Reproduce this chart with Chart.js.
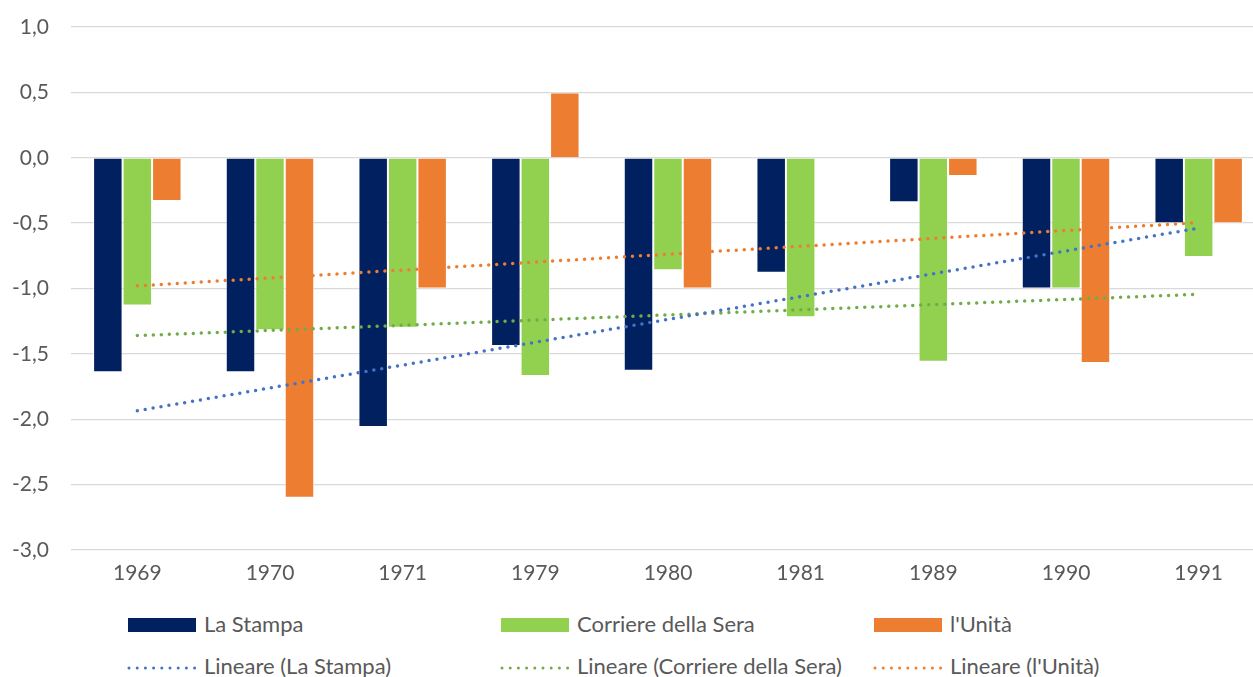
<!DOCTYPE html>
<html>
<head>
<meta charset="utf-8">
<script src="https://cdn.jsdelivr.net/npm/chart.js@4.4.1/dist/chart.umd.min.js"></script>
<style>
  html, body { margin: 0; padding: 0; background: #fff; width: 1253px; height: 677px; overflow: hidden; position: relative; }
  #wrap { position: absolute; left: 0; top: 0; width: 1265px; height: 600px; }
  .leg { position: absolute; font-family: Lato, "Open Sans", sans-serif; font-size: 22px; color: #595959; white-space: nowrap; line-height: 24px; }
  .sw { position: absolute; width: 68px; height: 14px; }
  svg.dl { position: absolute; width: 70px; height: 8px; }
</style>
</head>
<body>
<div id="wrap"><canvas id="c"></canvas></div>
<div id="legend"></div>
<script>
const categories = ["1969", "1970", "1971", "1979", "1980", "1981", "1989", "1990", "1991"];
const laStampa = [-1.64, -1.64, -2.06, -1.44, -1.63, -0.88, -0.34, -1.00, -0.50];
const corriere = [-1.13, -1.32, -1.30, -1.67, -0.86, -1.22, -1.56, -1.00, -0.76];
const unita    = [-0.33, -2.60, -1.00, 0.50, -1.00, 0.00, -0.14, -1.57, -0.50];
const seriesNames = ["La Stampa", "Corriere della Sera", "l'Unità"];
const yTicks = { min: -3, max: 1, step: 0.5 };

const barColors = ["#002060", "#92D050", "#ED7D31"];
const trendColors = ["#4472C4", "#70AD47", "#ED7D31"];

// Linear trend (least squares) of each series, as Excel's "Lineare" trendline
function linearTrend(vals) {
  const n = vals.length;
  let sx = 0, sy = 0, sxx = 0, sxy = 0;
  vals.forEach((v, i) => { const x = i + 1; sx += x; sy += v; sxx += x * x; sxy += x * v; });
  const b = (n * sxy - sx * sy) / (n * sxx - sx * sx);
  const a = (sy - b * sx) / n;
  return vals.map((v, i) => a + b * (i + 1));
}

const seriesData = [laStampa, corriere, unita];
const datasets = [];
seriesData.forEach((d, i) => {
  datasets.push({
    type: 'bar', label: seriesNames[i], data: d,
    backgroundColor: barColors[i], borderColor: 'rgba(255,255,255,0.5)', borderWidth: 1,
    categoryPercentage: 3 / 4.5, barPercentage: 1, order: 2
  });
});
seriesData.forEach((d, i) => {
  datasets.push({
    type: 'line', label: 'Lineare (' + seriesNames[i] + ')', data: linearTrend(d),
    borderColor: trendColors[i], borderWidth: 3.5, borderDash: [0, 8], borderCapStyle: 'round',
    pointRadius: 0, fill: false, tension: 0, order: 1
  });
});

const fontFam = 'Lato, "Open Sans", sans-serif';
new Chart(document.getElementById('c'), {
  data: { labels: categories, datasets },
  options: {
    responsive: true, maintainAspectRatio: false, animation: false,
    layout: { padding: { top: 27, left: 0, right: 0, bottom: 0 } },
    plugins: { legend: { display: false }, tooltip: { enabled: false } },
    scales: {
      x: {
        grid: { display: false, drawTicks: false }, border: { display: false },
        ticks: { color: '#595959', font: { family: fontFam, size: 21 }, padding: 11 },
        afterFit(s) { s.height = 50; }
      },
      y: {
        min: yTicks.min, max: yTicks.max,
        grid: { color: '#d9d9d9', lineWidth: 1.3, drawTicks: false },
        border: { display: false },
        ticks: {
          stepSize: yTicks.step, color: '#595959', font: { family: fontFam, size: 21 }, padding: 22,
          callback: v => v.toFixed(1).replace('.', ',')
        },
        afterFit(s) { s.width = 71; s.paddingTop = 0; s.paddingBottom = 0; }
      }
    }
  }
});

// HTML legend in Excel's grid layout
const legend = document.getElementById('legend');
const colX = [128, 501, 874];
seriesNames.forEach((name, i) => {
  const sw = document.createElement('div');
  sw.className = 'sw';
  sw.style.left = colX[i] + 'px'; sw.style.top = '618px'; sw.style.background = barColors[i];
  legend.appendChild(sw);
  const t = document.createElement('div');
  t.className = 'leg'; t.textContent = name;
  t.style.left = (colX[i] + 76) + 'px'; t.style.top = '612px';
  legend.appendChild(t);

  const ns = 'http://www.w3.org/2000/svg';
  const svg = document.createElementNS(ns, 'svg');
  svg.setAttribute('class', 'dl');
  svg.style.left = (colX[i] - 1) + 'px'; svg.style.top = '664px';
  const ln = document.createElementNS(ns, 'line');
  ln.setAttribute('x1', 2); ln.setAttribute('x2', 68); ln.setAttribute('y1', 4); ln.setAttribute('y2', 4);
  ln.setAttribute('stroke', trendColors[i]); ln.setAttribute('stroke-width', 3);
  ln.setAttribute('stroke-dasharray', '0 8.2'); ln.setAttribute('stroke-linecap', 'round');
  svg.appendChild(ln);
  legend.appendChild(svg);
  const t2 = document.createElement('div');
  t2.className = 'leg'; t2.textContent = 'Lineare (' + name + ')';
  t2.style.left = (colX[i] + 76) + 'px'; t2.style.top = '654px';
  legend.appendChild(t2);
});
</script>
</body>
</html>
